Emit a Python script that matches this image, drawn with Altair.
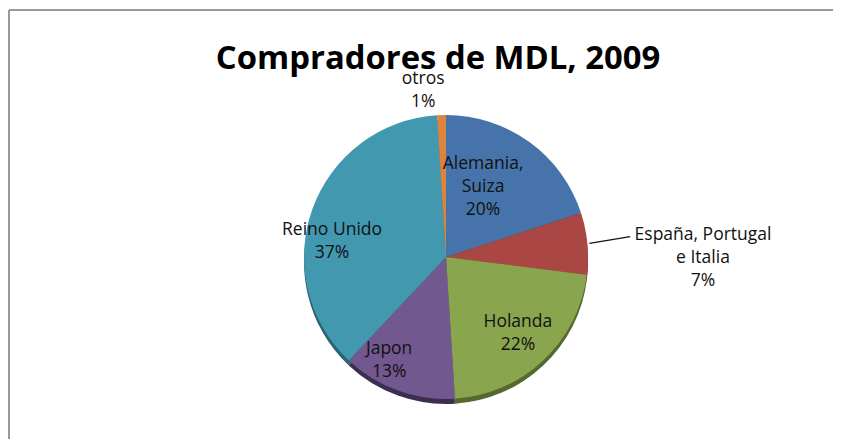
import altair as alt
import pandas as pd

categories = ["Alemania, Suiza", "España, Portugal e Italia", "Holanda", "Japon", "Reino Unido", "otros"]
label_lines = ["Alemania,\nSuiza", "España, Portugal\ne Italia", "Holanda", "Japon", "Reino Unido", "otros"]
values = [20, 7, 22, 13, 37, 1]
pct_labels = ["20%", "7%", "22%", "13%", "37%", "1%"]

top_colors = ["#4674AA", "#AA4643", "#89A54E", "#71588F", "#4198AF", "#DB843D"]
side_colors = ["#2D4A6E", "#6E2D2B", "#55682F", "#3B2E50", "#2A6373", "#8E5527"]

df = pd.DataFrame({
    "cat": categories,
    "lbl": [l + "\n" + p for l, p in zip(label_lines, pct_labels)],
    "val": values,
    "ord": list(range(len(values))),
})

W, H = 825, 431
CX, CY, R = 438, 249, 142
LH = 23
FONT = "Open Sans"
ESP = "España, Portugal e Italia"
cat_list = "[" + ", ".join("'" + c + "'" for c in categories) + "]"
idx = f"indexof({cat_list}, datum.cat)"

base = alt.Chart(df)
theta = alt.Theta("val:Q", stack=True)
order = alt.Order("ord:Q", sort="ascending")

side = base.mark_arc(outerRadius=R).encode(
    theta=theta,
    order=order,
    color=alt.Color("cat:N", scale=alt.Scale(domain=categories, range=side_colors), legend=None),
    x=alt.value(CX), y=alt.value(CY + 5),
)

top = base.mark_arc(outerRadius=R).encode(
    theta=theta,
    order=order,
    color=alt.Color("cat:N", scale=alt.Scale(domain=categories, range=top_colors), legend=None),
    x=alt.value(CX), y=alt.value(CY),
)

# label placement: radius from centre and small angular nudge (degrees) per slice
polar = base.transform_joinaggregate(
    total="sum(val)"
).transform_window(
    cum="sum(val)", sort=[alt.SortField("ord")], frame=[None, 0]
).transform_calculate(
    mid="2*PI*(datum.cum - datum.val/2)/datum.total",
    r=f"[79, 257, 105, 118, 115, 168][{idx}]",
    nudge=f"[-8, 5.6, 0, 9, -12, -6][{idx}] * PI / 180",
    nl="length(split(datum.lbl, '\\n'))",
).transform_calculate(
    lx=f"{CX} + datum.r*sin(datum.mid + datum.nudge)",
    ly=f"{CY} - datum.r*cos(datum.mid + datum.nudge) - (datum.nl - 1)*{LH}/2",
    x1=f"{CX} + {R + 2}*sin(datum.mid)",
    y1=f"{CY} - {R + 2}*cos(datum.mid)",
    x2=f"{CX} + 185*sin(datum.mid)",
    y2=f"{CY} - 185*cos(datum.mid) - 3",
)

labels = polar.mark_text(font=FONT, fontSize=17.5, lineBreak="\n", lineHeight=LH,
                         color="#111111", align="center", baseline="middle").encode(
    x=alt.X("lx:Q", scale=None), y=alt.Y("ly:Q", scale=None),
    text="lbl:N",
)

leader = polar.transform_filter(f"datum.cat == '{ESP}'").mark_rule(
    color="#111111", strokeWidth=1.2
).encode(
    x=alt.X("x1:Q", scale=None), y=alt.Y("y1:Q", scale=None),
    x2="x2:Q", y2="y2:Q",
)

one = alt.Chart(pd.DataFrame({"t": ["Compradores de MDL, 2009"]}))
title = one.mark_text(font=FONT, fontSize=32.8, fontWeight="bold", color="#000000",
                      align="center", baseline="alphabetic").encode(
    text="t:N", x=alt.value(430), y=alt.value(61),
)
border_left = one.mark_rule(color="#999999", strokeWidth=2).encode(
    x=alt.value(1), y=alt.value(2), y2=alt.value(H),
)
border_top = one.mark_rule(color="#999999", strokeWidth=2).encode(
    x=alt.value(1), x2=alt.value(W), y=alt.value(2),
)

chart = alt.layer(
    border_left, border_top, side, top, labels, leader, title
).resolve_scale(color="independent").properties(
    width=W, height=H, padding=0,
    autosize=alt.AutoSizeParams(type="fit", contains="padding"),
).configure(background="white", view=alt.ViewConfig(stroke="transparent", strokeWidth=0))

chart.save("out.html", embed_options={"renderer": "svg", "actions": False})
